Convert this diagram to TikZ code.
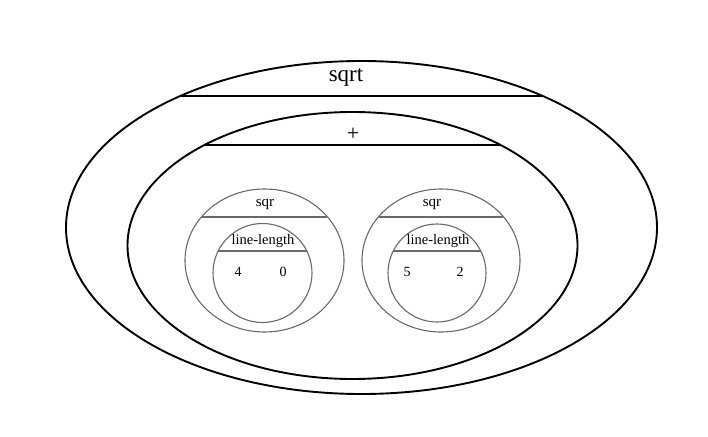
\documentclass[tikz,border=0pt]{standalone}
\usepackage{fontspec}
\setmainfont{Liberation Serif}
\usetikzlibrary{shapes.geometric}
\definecolor{thin}{RGB}{105,105,105}
\tikzset{
  big/.style={draw=black, line width=1.9pt, ellipse, inner sep=0pt, outer sep=0pt},
  small/.style={draw=thin, line width=1.1pt, ellipse, inner sep=0pt, outer sep=0pt},
  bigchord/.style={draw=black, line width=1.9pt},
  smallchord/.style={draw=thin, line width=1.1pt},
  lbl/.style={inner sep=0pt, anchor=center},
}
\begin{document}
\begin{tikzpicture}[x=1pt,y=-1pt]
\useasboundingbox (0,0) rectangle (708,436);
% outer sqrt
\node[big, minimum width=591, minimum height=333] (sqrtE) at (361.5,227.5) {};
\coordinate (sqrtA) at (180,96);
\coordinate (sqrtB) at (543,96);
\draw[bigchord] (sqrtA) -- (sqrtB);
\node[lbl, font=\fontsize{23}{26}\selectfont] (sqrtT) at (346,77) {sqrt};
% plus
\node[big, minimum width=450, minimum height=267] (plusE) at (352.5,245.5) {};
\coordinate (plusA) at (204,145);
\coordinate (plusB) at (500,145);
\draw[bigchord] (plusA) -- (plusB);
\node[lbl, font=\fontsize{22}{24}\selectfont] (plusT) at (353,134) {+};
% left sqr
\node[small, minimum width=159, minimum height=143] (sqrL) at (264.5,260.5) {};
\coordinate (sqrLA) at (202,217);
\coordinate (sqrLB) at (327,217);
\draw[smallchord] (sqrLA) -- (sqrLB);
\node[lbl, font=\fontsize{15}{17}\selectfont] (sqrLT) at (265,204) {sqr};
\node[small, minimum width=99, minimum height=99] (llL) at (262.5,273) {};
\coordinate (llLA) at (218,251);
\coordinate (llLB) at (307,251);
\draw[smallchord] (llLA) -- (llLB);
\node[lbl, font=\fontsize{14.5}{16}\selectfont] (llLT) at (263,241) {line-length};
\node[lbl, font=\fontsize{14}{16}\selectfont] (n4) at (238,272) {4};
\node[lbl, font=\fontsize{14}{16}\selectfont] (n0) at (283,272) {0};
% right sqr
\node[small, minimum width=158, minimum height=143] (sqrR) at (441,260.5) {};
\coordinate (sqrRA) at (379,217);
\coordinate (sqrRB) at (503,217);
\draw[smallchord] (sqrRA) -- (sqrRB);
\node[lbl, font=\fontsize{15}{17}\selectfont] (sqrRT) at (432,204) {sqr};
\node[small, minimum width=98, minimum height=98] (llR) at (437,273) {};
\coordinate (llRA) at (393,251);
\coordinate (llRB) at (481,251);
\draw[smallchord] (llRA) -- (llRB);
\node[lbl, font=\fontsize{14.5}{16}\selectfont] (llRT) at (438,241) {line-length};
\node[lbl, font=\fontsize{14}{16}\selectfont] (n5) at (407,272) {5};
\node[lbl, font=\fontsize{14}{16}\selectfont] (n2) at (460,272) {2};
\end{tikzpicture}
\end{document}
